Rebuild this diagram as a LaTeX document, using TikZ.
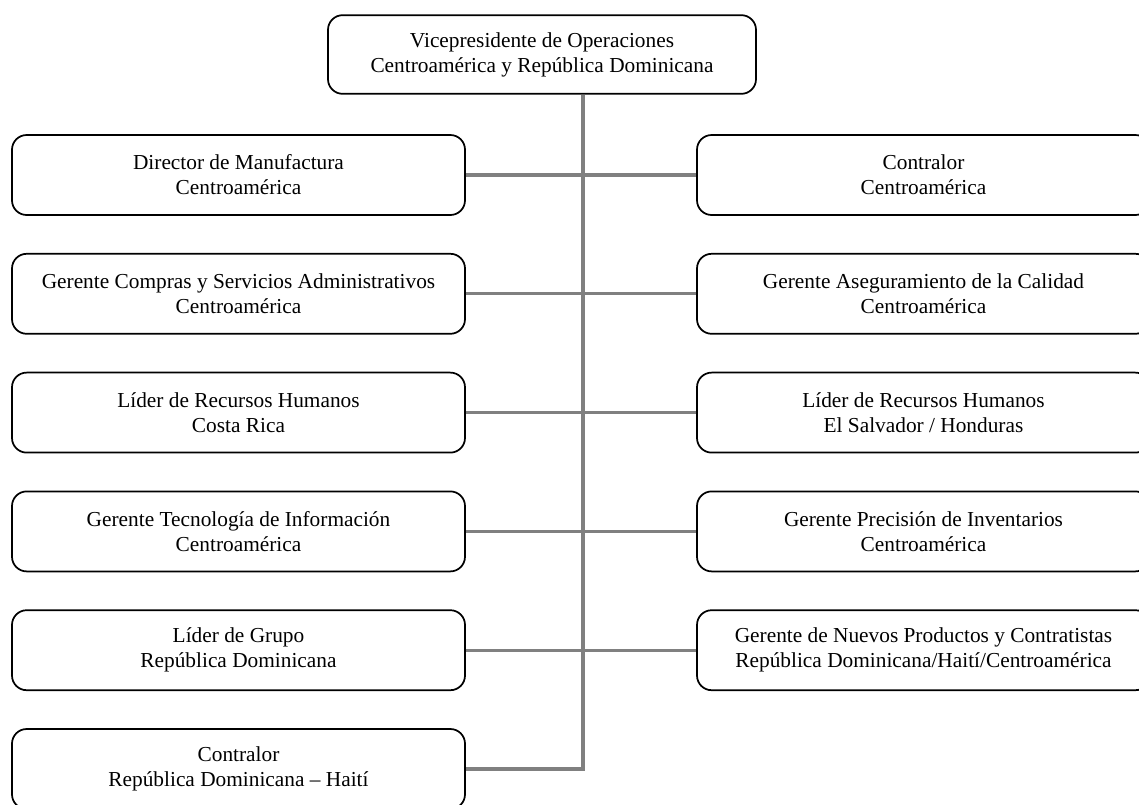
\documentclass[tikz,border=0pt]{standalone}
\usepackage{fontspec}
\setmainfont{Liberation Serif}
\usetikzlibrary{positioning}

\begin{document}
\begin{tikzpicture}[x=0.75pt,y=-0.75pt,node distance=89.1pt,
                    font=\fontsize{16}{18.75}\selectfont]
  \tikzstyle{post}=[draw=black,line width=1.3pt,rounded corners=11pt,align=center,
                    minimum width=339.75pt,minimum height=60pt,inner sep=2pt]
  \tikzstyle{link}=[draw=black!50,line width=2.4pt]

  \useasboundingbox (0,0) rectangle (1139,804);
  \clip (0,0) rectangle (1139,804);

  \node[post,minimum width=321pt,minimum height=59pt] (vp) at (542,54.5)
       {Vicepresidente de Operaciones\\Centroamérica y República Dominicana};

  % left column
  \node[post] (dm) at (238.5,175) {Director de Manufactura\\Centroamérica};
  \node[post] (gc) [below of=dm] {Gerente Compras y Servicios Administrativos\\Centroamérica};
  \node[post] (lcr) [below of=gc] {Líder de Recursos Humanos\\Costa Rica};
  \node[post] (gti) [below of=lcr] {Gerente Tecnología de Información\\Centroamérica};
  \node[post] (lg) [below of=gti] {Líder de Grupo\\República Dominicana};
  \node[post] (crd) [below of=lg] {Contralor\\República Dominicana -- Haití};

  % right column
  \node[post] (cca) at (923.5,175) {Contralor\\Centroamérica};
  \node[post] (gac) [below of=cca] {Gerente Aseguramiento de la Calidad\\Centroamérica};
  \node[post] (lsh) [below of=gac] {Líder de Recursos Humanos\\El Salvador / Honduras};
  \node[post] (gpi) [below of=lsh] {Gerente Precisión de Inventarios\\Centroamérica};
  \node[post] (gnp) [below of=gpi] {Gerente de Nuevos Productos y Contratistas\\República Dominicana/Haití/Centroamérica};

  \coordinate (spine) at (583,0);
  \draw[link] (vp.south -| spine) -- (spine |- crd.east) -- (crd.east);
  \foreach \a/\b in {dm/cca,gc/gac,lcr/lsh,gti/gpi,lg/gnp}
    \draw[link] (\a.east) -- (\b.west);
\end{tikzpicture}
\end{document}
